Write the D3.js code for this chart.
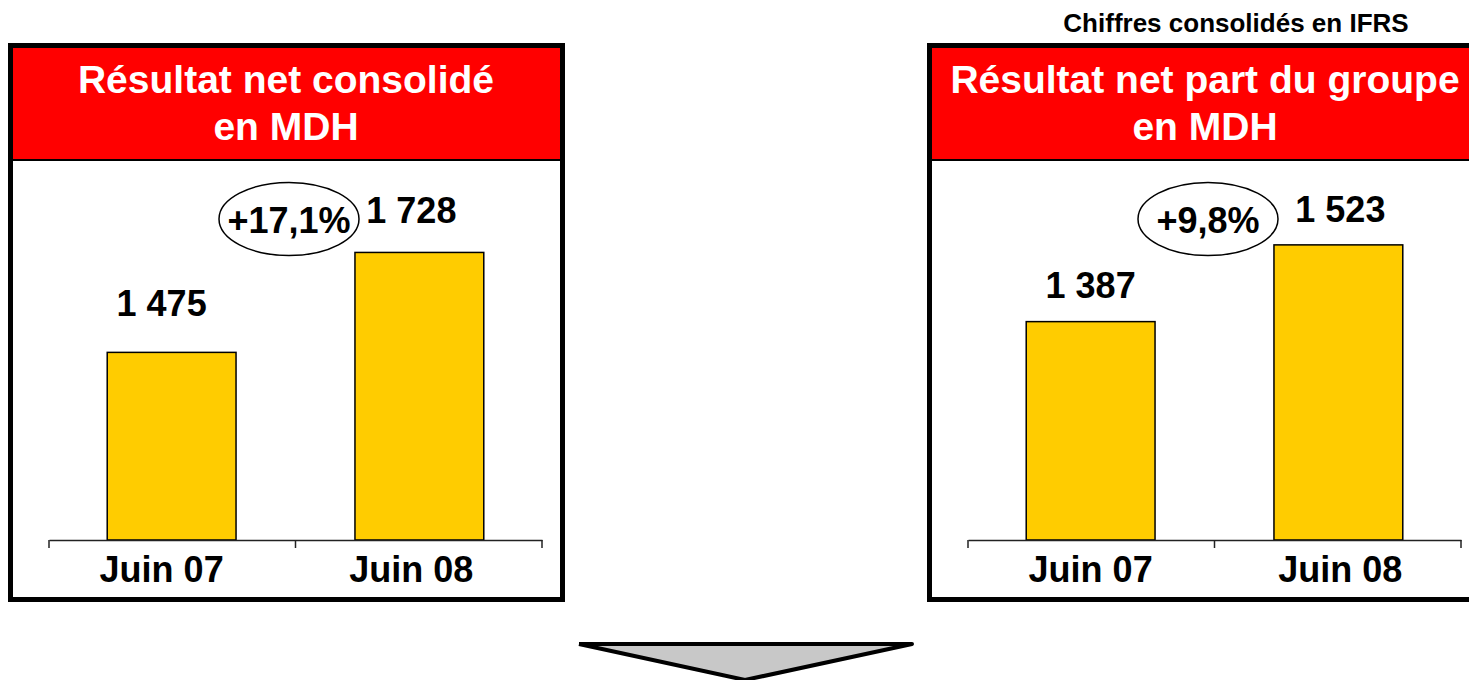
<!DOCTYPE html>
<html><head><meta charset="utf-8">
<script src="https://cdn.jsdelivr.net/npm/d3@7"></script>
<style>
html,body{margin:0;padding:0;background:#fff;overflow:hidden}
text{font-family:"Liberation Sans",Arial,sans-serif;font-weight:bold}
</style></head>
<body>
<svg id="c" width="1469" height="680"></svg>
<script>
const categories = ["Juin 07", "Juin 08"];
const netConsolide = [1475, 1728];
const netPartGroupe = [1387, 1523];
const valueLabels1 = ["1 475", "1 728"];
const valueLabels2 = ["1 387", "1 523"];
const growth1 = "+17,1%";
const growth2 = "+9,8%";
const titles1 = ["Résultat net consolidé", "en MDH"];
const titles2 = ["Résultat net part du groupe", "en MDH"];
const note = "Chiffres consolidés en IFRS";

const svg = d3.select("#c");

function panel(ox, titles, values, labels, growth, yMax, style) {
  const g = svg.append("g").attr("transform", `translate(${ox},0)`);
  g.append("rect").attr("x", 10.5).attr("y", 45.5).attr("width", 552).attr("height", 554)
    .attr("fill", "#fff").attr("stroke", "#000").attr("stroke-width", 5);
  g.append("rect").attr("x", 13).attr("y", 48).attr("width", 547).attr("height", 111)
    .attr("fill", "#ff0000");
  g.append("line").attr("x1", 13).attr("x2", 560).attr("y1", 160).attr("y2", 160)
    .attr("stroke", "#000").attr("stroke-width", 2);
  g.selectAll("text.title").data(titles).join("text").attr("class", "title")
    .attr("x", 286).attr("y", (d, i) => 93 + i * 47)
    .attr("text-anchor", "middle").attr("fill", "#fff").attr("font-size", 39).text(d => d);

  const x = d3.scaleBand().domain(categories).range([49, 542]).paddingInner(0.48).paddingOuter(0.235);
  const y = d3.scaleLinear().domain([1000, yMax]).range([540, 145]);

  g.selectAll("rect.bar").data(values).join("rect").attr("class", "bar")
    .attr("x", (d, i) => x(categories[i])).attr("width", x.bandwidth())
    .attr("y", d => y(d)).attr("height", d => y(1000) - y(d))
    .attr("fill", "#ffcc00").attr("stroke", "#000").attr("stroke-width", 1.5);

  const axis = d3.axisBottom(x).tickSize(0).tickPadding(16);
  const ag = g.append("g").attr("transform", `translate(0,${y(1000)})`).call(axis);
  ag.select(".domain").attr("stroke", "#222").attr("stroke-width", 1.5);
  ag.selectAll(".tick text").attr("font-size", 36).attr("fill", "#000")
    .attr("dx", (d, i) => style.dx[i])
    .attr("font-family", "Liberation Sans, Arial, sans-serif").attr("font-weight", "bold");
  const r = x.range();
  const bounds = d3.range(categories.length + 1).map(i => r[0] + i * (r[1] - r[0]) / categories.length);
  ag.selectAll("line.bd").data(bounds).join("line").attr("class", "bd")
    .attr("x1", d => d).attr("x2", d => d).attr("y1", 0).attr("y2", 8)
    .attr("stroke", "#222").attr("stroke-width", 1.5);

  g.selectAll("text.val").data(values).join("text").attr("class", "val")
    .attr("x", (d, i) => x(categories[i]) + x.bandwidth() / 2 + style.dx[i])
    .attr("y", (d, i) => y(d) - style.gap[i])
    .attr("text-anchor", "middle").attr("font-size", 36).attr("fill", "#000")
    .text((d, i) => labels[i]);

  const cx = bounds[1] - 6.5, cy = 219;
  g.append("ellipse").attr("cx", cx).attr("cy", cy).attr("rx", 70).attr("ry", 36.5)
    .attr("fill", "none").attr("stroke", "#000").attr("stroke-width", 1.5);
  g.append("text").attr("x", cx).attr("y", cy + 14).attr("text-anchor", "middle")
    .attr("font-size", 36).attr("fill", "#000").text(growth);
}

panel(0, titles1, netConsolide, valueLabels1, growth1, 2000, {dx: [-10, -8], gap: [36, 29]});
panel(919, titles2, netPartGroupe, valueLabels2, growth2, 1700, {dx: [0, 2], gap: [24, 23]});

svg.append("text").attr("x", 1236).attr("y", 32).attr("text-anchor", "middle")
  .attr("font-size", 26).attr("fill", "#000").text(note);

svg.append("path").attr("d", d3.line()([[579, 644], [912, 644], [745, 680], [579, 644]]))
  .attr("fill", "#c8c8c8").attr("stroke", "#000").attr("stroke-width", 4).attr("stroke-linejoin", "round");
</script>
</body></html>
